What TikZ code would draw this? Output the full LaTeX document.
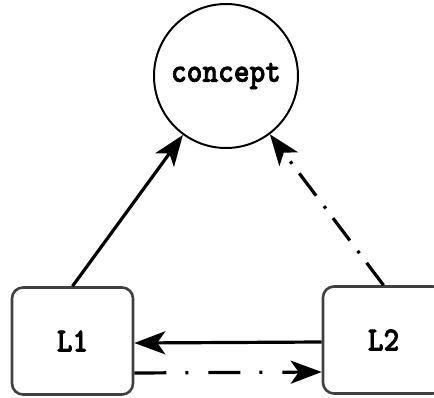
\documentclass[tikz,border=0pt]{standalone}
\usepackage{fontspec}
\newfontfamily\lmttbold{lmmonolt10-bold.otf}[FakeBold=2, FakeStretch=0.88]
\usetikzlibrary{arrows.meta}
\begin{document}
\begin{tikzpicture}[x=1pt,y=1pt,
  lbl/.style={font=\lmttbold\fontsize{34}{35}\selectfont},
  conc/.style={draw, circle, line width=2pt, minimum size=144pt, inner sep=0pt, lbl},
  box/.style={draw=black!75, rounded corners=11pt, line width=2.6pt, minimum width=121pt, minimum height=107pt, inner sep=0pt, lbl},
  conn/.style={line width=3.2pt, -{Stealth[length=31pt,width=23pt,inset=8pt]}},
  dashdot/.style={dash pattern=on 32pt off 19pt on 3pt off 20pt},
  dashdotd/.style={dash pattern=on 28pt off 12pt on 3pt off 13pt}
]
\useasboundingbox (0,0) rectangle (434,-397);
\node[conc] (concept) at (226,-76) {concept};
\node[box] (L1) at (72.5,-341) {L1};
\node[box] (L2) at (383.5,-340) {L2};
\draw[conn] (L1.north) -- (concept);
\draw[conn, dashdotd] (L2.north) -- (concept);
\draw[conn] ([yshift=-2pt]L2.west) -- ([yshift=-2pt]L1.east);
\draw[conn, dashdot] ([yshift=-32pt]L1.east) -- ([yshift=-32pt]L2.west);
\end{tikzpicture}
\end{document}
